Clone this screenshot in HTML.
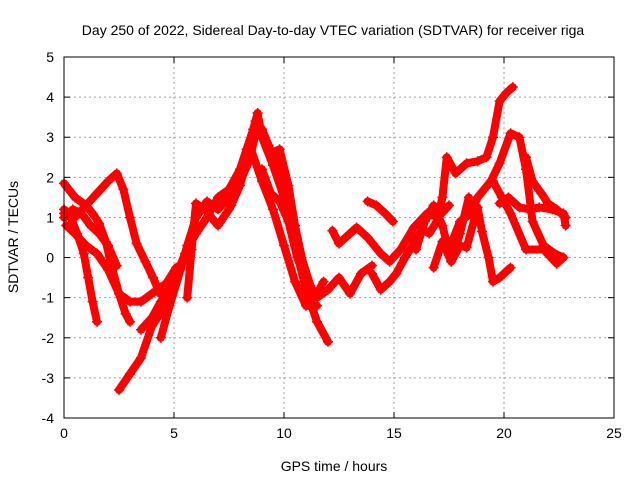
<!DOCTYPE html>
<html><head><meta charset="utf-8"><style>
body{margin:0;background:#fff}
svg{display:block;font-family:"Liberation Sans",sans-serif}
</style></head><body>
<svg id="chart" width="640" height="480">
<text x="333" y="35" text-anchor="middle" font-size="14">Day 250 of 2022, Sidereal Day-to-day VTEC variation (SDTVAR) for receiver riga</text>
<text x="334" y="471" text-anchor="middle" font-size="14">GPS time / hours</text>
<text transform="translate(18,237) rotate(-90)" text-anchor="middle" font-size="14">SDTVAR / TECUs</text>
<g id="grid"></g><g id="marks"></g><g id="axes"></g>
</svg>
<script>
const xTicks=[0,5,10,15,20,25];
const yTicks=[-4,-3,-2,-1,0,1,2,3,4,5];
const t1=[0,0.3,0.6,0.9,1.1,1.3,1.5];
const v1=[1.1,1.0,0.6,0.1,-0.5,-1.1,-1.6];
const t2=[0,0.5,1,1.3,1.6,1.9,2.2,2.5,2.8,3.0];
const v2=[1.85,1.5,1.3,1.1,0.85,0.4,-0.3,-0.9,-1.4,-1.6];
const t3=[0.1,0.5,1,1.5,2,2.5,3,3.5,4,4.5];
const v3=[0.8,0.6,0.3,0.1,-0.3,-0.9,-1.1,-1.1,-0.9,-0.7];
const t4=[0,0.5,1,1.5,2,2.4,2.7,3.0,3.3,3.7,4.05,4.36,4.7,5.1];
const v4=[1.2,1.0,1.3,1.6,1.9,2.1,1.7,1.0,0.35,-0.1,-0.5,-0.9,-0.6,-0.25];
const t5=[2.5,3,3.5,4,4.5,5,5.5,6,6.5,7,7.5,8,8.3,8.6,8.8];
const v5=[-3.3,-2.9,-2.5,-1.7,-1.3,-0.6,0.1,0.6,1.0,1.5,1.7,2.2,2.7,3.2,3.6];
const t6=[3.5,4,4.4,4.8,5.1];
const v6=[-1.8,-1.5,-1.1,-0.8,-0.4];
const t7=[4.4,4.8,5.3,5.6,6.0,6.5,7,7.5,8,8.5,8.8];
const v7=[-2.0,-1.2,-0.3,0.3,1.0,1.4,1.2,1.5,2.0,2.6,3.3];
const t8=[5.6,5.8,6.0,6.4,7.0,7.5,8.0,8.5];
const v8=[-1.0,0.2,1.35,1.2,0.8,1.2,1.9,2.5];
const t9=[8.8,9,9.5,10,10.5,11,11.5,12];
const v9=[3.6,3.0,2.3,1.5,0.3,-0.8,-1.6,-2.1];
const t10=[9.4,9.8,10.2,10.5,11,11.5,12,12.5,13,13.5,14];
const v10=[2.6,2.7,1.8,0.8,-0.5,-1.0,-0.8,-0.5,-0.9,-0.4,-0.2];
const t11=[8.5,9,9.5,10,10.5,11,11.5];
const v11=[2.7,1.9,1.2,0.3,-0.6,-1.2,-1.2];
const t12=[12.2,12.5,13.0,13.3,13.8,14.4,14.8,15.3,15.9,16.5,17,17.5];
const v12=[0.67,0.35,0.6,0.75,0.5,0.1,-0.1,0.2,0.75,1.1,1.0,1.3];
const t13=[13.8,14.2,14.6,14.95];
const v13=[1.4,1.3,1.1,0.9];
const t14=[14.0,14.4,14.8,15.1,15.5,15.9];
const v14=[-0.4,-0.8,-0.6,-0.4,0,0.35];
const t15=[15.9,16.3,16.6,16.95,17.2,17.4,17.8,18.3,18.8,19.2,19.5,19.8,20.1,20.4];
const v15=[0.4,0.7,0.6,0.9,1.5,2.5,2.1,2.35,2.4,2.5,3.0,3.9,4.1,4.25];
const t16=[16.8,17.2,17.6,18.0,18.3,18.8,19.0,19.3,19.5,19.8,20.3];
const v16=[-0.25,0.4,-0.1,0.3,0.25,1.25,0.65,0.0,-0.6,-0.5,-0.25];
const t17=[17.5,18,18.5,18.8,19.4,19.8,20.3,20.7,21.0,21.3,21.8,22.3,22.7];
const v17=[0.2,0.9,1.1,1.5,1.9,2.35,3.1,3.0,2.2,0.9,0.3,0.1,0.0];
const t18=[19.5,19.9,20.3,21.0,21.8,22.4,22.7];
const v18=[1.9,1.5,1.1,0.2,0.2,-0.15,0.0];
const t19=[19.8,20.2,20.7,21.2,21.6,22.2,22.7,22.8];
const v19=[1.35,1.5,1.25,1.2,1.25,1.2,1.1,0.8];
const t20=[21.0,21.3,21.7,22.0,22.4,22.8];
const v20=[2.5,1.9,1.6,1.35,1.2,1.0];
const t21=[16.0,16.4,16.8,17.2,17.6,18.0,18.4];
const v21=[0.2,0.9,1.3,0.8,-0.1,0.6,1.5];
const t22=[7.6,8.0,8.4,8.7,9.0,9.3,9.6,10.0,10.4,10.8,11.2];
const v22=[1.3,1.8,2.6,3.4,3.2,2.8,2.4,1.9,1.0,0.0,-0.7];
const t23=[9.0,9.4,9.8,10.2,10.6,11.0,11.4,11.8];
const v23=[2.2,1.6,1.4,0.9,0.0,-0.6,-1.0,-0.6];
const t24=[0,0.4,0.8,1.2,1.6,2.0,2.4];
const v24=[1.0,1.2,1.1,0.8,0.6,0.3,-0.2];
const series=[[t1,v1],[t2,v2],[t3,v3],[t4,v4],[t5,v5],[t6,v6],[t7,v7],[t8,v8],[t9,v9],[t10,v10],[t11,v11],[t12,v12],[t13,v13],[t14,v14],[t15,v15],[t16,v16],[t17,v17],[t18,v18],[t19,v19],[t20,v20],[t21,v21],[t22,v22],[t23,v23],[t24,v24]];
const NS="http://www.w3.org/2000/svg";
const L=64,R=614,T=57,B=418;
const X=t=>L+(t-0)/25*(R-L);
const Y=v=>B-(v+4)/9*(B-T);
function mk(tag,attrs,parent){const e=document.createElementNS(NS,tag);for(const k in attrs)e.setAttribute(k,attrs[k]);parent.appendChild(e);return e;}
const grid=document.getElementById('grid'),marks=document.getElementById('marks'),axes=document.getElementById('axes');
xTicks.forEach(t=>{
  if(t>0&&t<25){const g=mk('line',{x1:X(t),x2:X(t),y1:T,y2:B,stroke:'#a0a0a0','stroke-dasharray':'2,3'},grid);
  
  }
  mk('line',{x1:X(t),x2:X(t),y1:B,y2:B-6,stroke:'#000'},axes);
  mk('line',{x1:X(t),x2:X(t),y1:T,y2:T+6,stroke:'#000'},axes);
  const lb=mk('text',{x:X(t),y:B+20,'text-anchor':'middle','font-size':14},axes);lb.textContent=t;
  
  
});
yTicks.forEach(v=>{
  if(v>-4&&v<5){const g=mk('line',{x1:L,x2:R,y1:Y(v),y2:Y(v),stroke:'#a0a0a0','stroke-dasharray':'2,3'},grid);
  
  }
  mk('line',{x1:L,x2:L+6,y1:Y(v),y2:Y(v),stroke:'#000'},axes);
  mk('line',{x1:R,x2:R-6,y1:Y(v),y2:Y(v),stroke:'#000'},axes);
  const lb=mk('text',{x:L-10,y:Y(v)+5,'text-anchor':'end','font-size':14},axes);lb.textContent=v;
  
  
});
const fr=mk('rect',{x:L,y:T,width:R-L,height:B-T,fill:'none',stroke:'#000'},axes);


series.forEach((s,i)=>{
  const [ts,vs]=s;
  const g=mk('g',{},marks);
  
  
  mk('polyline',{points:ts.map((t,j)=>X(t)+','+Y(vs[j])).join(' '),fill:'none',stroke:'#f00','stroke-width':8,'stroke-linejoin':'round','stroke-linecap':'round'},g);
  ts.forEach((t,j)=>{
    const x=X(t),y=Y(vs[j]);
    const p=mk('path',{d:`M${x-5},${y}H${x+5}M${x},${y-5}V${y+5}`,stroke:'#f00','stroke-width':1.5},g);
    
    
  });
});
</script>
</body></html>
